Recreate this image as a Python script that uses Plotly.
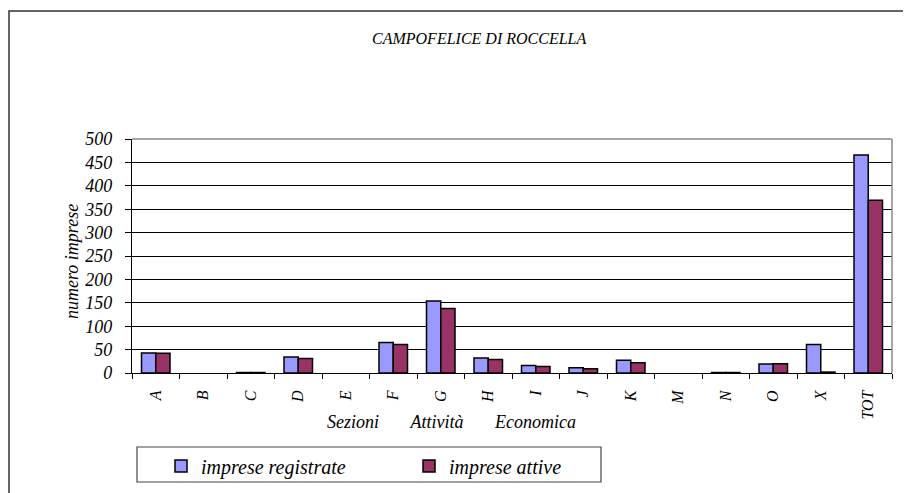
import plotly.graph_objects as go

categories = ["A", "B", "C", "D", "E", "F", "G", "H", "I", "J", "K", "M", "N", "O", "X", "TOT"]
registrate = [43, None, 1, 34, None, 65, 154, 32, 16, 11, 27, None, 1, 19, 61, 466]
attive = [42, None, 1, 31, None, 61, 138, 29, 14, 9, 22, None, 1, 20, 2, 369]

title_text = "CAMPOFELICE DI ROCCELLA"
y_title = "numero imprese"
x_title = "Sezioni" + "\u00a0" * 7 + "Attività" + "\u00a0" * 7 + "Economica"
names = ["imprese registrate", "imprese attive"]
y_ticks = [0, 50, 100, 150, 200, 250, 300, 350, 400, 450, 500]

FONT = "Liberation Serif"
OFF = 8  # page body margin
W, H = 911, 493
PL, PR, PT, PB = 132, 892, 139, 373  # plot area in screen pixels
L, T = PL - OFF, PT - OFF
R, B = W - (PR - OFF), H - (PB - OFF)
pw, ph = PR - PL, PB - PT

def px_x(p):
    return (p - PL) / pw

def px_y(p):
    return (PB - p) / ph

def fnt(size):
    return dict(family=FONT, size=size, color="black", style="italic")

fig = go.Figure()
fig.add_trace(go.Bar(x=categories, y=registrate, name=names[0],
                     marker=dict(color="#9999FF", line=dict(color="black", width=1.5))))
fig.add_trace(go.Bar(x=categories, y=attive, name=names[1],
                     marker=dict(color="#993366", line=dict(color="black", width=1.5))))

fig.update_layout(
    width=W, height=H,
    margin=dict(l=L, r=R, t=T, b=B, pad=0),
    paper_bgcolor="white", plot_bgcolor="white",
    barmode="group", bargap=0.4, bargroupgap=0,
    font=dict(family=FONT, color="black"),
    showlegend=True,
    legend=dict(orientation="h", x=px_x(161), y=px_y(466), xanchor="left", yanchor="middle",
                bgcolor="rgba(0,0,0,0)", borderwidth=0, font=fnt(20),
                entrywidth=203, entrywidthmode="pixels"),
    annotations=[
        dict(text=title_text, x=px_x(479), y=px_y(38), xref="paper", yref="paper",
             xanchor="center", yanchor="middle", showarrow=False, font=fnt(16)),
        dict(text=x_title, x=px_x(451), y=px_y(422), xref="paper", yref="paper",
             xanchor="center", yanchor="middle", showarrow=False, font=fnt(18)),
        dict(text=y_title, x=px_x(72), y=px_y(262), xref="paper", yref="paper", textangle=-90,
             xanchor="center", yanchor="middle", showarrow=False, font=fnt(18)),
    ],
    shapes=[
        dict(type="rect", xref="paper", yref="paper", x0=px_x(9), x1=px_x(940), y0=px_y(11), y1=px_y(530),
             line=dict(color="#333333", width=1.5)),
        dict(type="rect", xref="paper", yref="paper", x0=px_x(137), x1=px_x(601), y0=px_y(447), y1=px_y(482),
             line=dict(color="#444444", width=1.2)),
        dict(type="line", xref="paper", yref="paper", x0=0, x1=1, y0=1, y1=1,
             line=dict(color="#888888", width=1.5), layer="above"),
        dict(type="line", xref="paper", yref="paper", x0=1, x1=1, y0=0, y1=1,
             line=dict(color="#888888", width=1.5), layer="above"),
    ],
)

fig.update_xaxes(type="category", tickangle=-90, ticks="outside", ticklen=5, tickcolor="black",
                 tickson="boundaries", showline=True, linecolor="black", linewidth=1.2,
                 showgrid=False, tickfont=fnt(16), ticklabelstandoff=10)
fig.update_yaxes(range=[0, 500], tickvals=y_ticks, ticks="outside", ticklen=6, tickcolor="black",
                 showline=True, linecolor="black", linewidth=1.2, showgrid=True, gridcolor="black",
                 gridwidth=1, zeroline=False, tickfont=fnt(18), ticklabelstandoff=9)

fig.write_html("out.html")
